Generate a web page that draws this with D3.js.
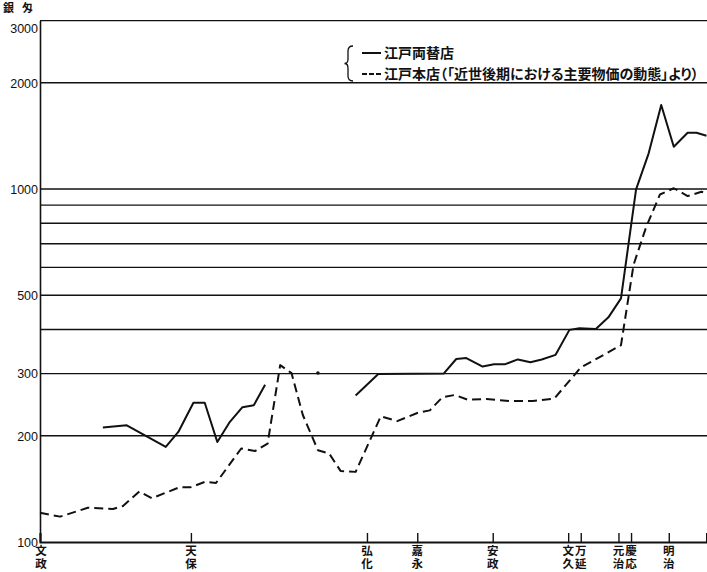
<!DOCTYPE html>
<html><head><meta charset="utf-8">
<script src="https://cdn.jsdelivr.net/npm/d3@7"></script>
<style>
html,body{margin:0;padding:0;background:#fff;}
svg{display:block;}
</style></head>
<body>
<svg id="chart" width="707" height="572"></svg>
<script>
// ---- data ----
const eraLabels = ["文政","天保","弘化","嘉永","安政","文久","万延","元治","慶応","明治"];
const eraYears  = [1818, 1830, 1844, 1848, 1854, 1860, 1861, 1864, 1865, 1868];

const yTickValues = [100, 200, 300, 500, 1000, 2000, 3000];
const gridValues  = [200, 300, 400, 500, 600, 700, 800, 900, 1000, 2000, 3000];

// 江戸両替店 (solid); null = gap
const ryogaeYears  = [1823, 1824.9, 1828, 1829, 1830.2, 1831.1, 1832.1, 1833.1, 1834.1, 1835, 1835.9,
  1838, 1840.1, 1842,
  1843.1, 1844.9, 1850.1, 1851.1, 1851.9, 1853.2, 1854.1, 1855, 1856, 1857, 1857.9, 1859,
  1860.1, 1860.9, 1862.2, 1863.2, 1864.2, 1865.4, 1866.4, 1867.4, 1868.4, 1869.5, 1870.2, 1871];
const ryogaeValues = [211, 214, 186, 205, 248, 248, 192, 219, 241, 244, 279,
  null, 301, null,
  260, 299, 300, 330, 332, 314, 319, 319, 329, 323, 329, 339,
  399, 403, 401, 433, 490, 998, 1262, 1730, 1318, 1443, 1443, 1416];

// 江戸本店 (dashed)
const hontenYears  = [1818, 1819.6, 1821.8, 1823.8, 1824.6, 1825.9, 1826.9, 1829.1, 1830, 1831.1, 1832,
  1834, 1835.1, 1836.1, 1837.1, 1838, 1838.9, 1840.1, 1841, 1841.9, 1843.1, 1845.1, 1846.4,
  1848, 1849, 1850, 1851, 1852, 1853.5, 1855.3, 1857.2, 1858.9, 1861, 1864.2, 1865.2, 1866.2,
  1867.3, 1868.4, 1869.5, 1870.6, 1871];
const hontenValues = [121, 118, 125, 124, 126.5, 139, 133, 143, 143, 148, 147,
  184, 181, 190, 317, 301, 229, 182, 178, 159, 158, 227, 220,
  232, 236, 257, 261, 253, 254, 251, 251, 255, 312, 361, 610, 780,
  965, 1005, 955, 982, 975];

const unitLabel = "銀 匁";
const legendLabels = ["江戸両替店", "江戸本店（「近世後期における主要物価の動態」より）"];

// ---- drawing ----
const svg = d3.select("#chart");
const x = d3.scaleLinear().domain([1818, 1871]).range([40, 706.5]);
const y = d3.scaleLog().domain([100, 3000]).range([542, 20.6]);
const font = "'Noto Sans CJK JP','Noto Sans',sans-serif";

// gridlines
svg.append("g").selectAll("line").data(gridValues).join("line")
  .attr("x1", x(1818)).attr("x2", 707)
  .attr("y1", d => y(d)).attr("y2", d => y(d))
  .attr("stroke", "#111").attr("stroke-width", 1.4);

// left axis
const yAxis = d3.axisLeft(y).tickValues(yTickValues).tickSize(0).tickPadding(2)
  .tickFormat(d3.format("d"));
const gy = svg.append("g").attr("transform", `translate(${x(1818)},0)`).call(yAxis);
gy.select(".domain").attr("stroke", "#111").attr("stroke-width", 1.6);
gy.selectAll("text").attr("font-family", "'Liberation Sans',Arial,sans-serif")
  .attr("font-size", 12.5).attr("fill", "#111")
  .attr("dy", d => d === 3000 ? "0.95em" : "0.35em");

// bottom axis
const xAxis = d3.axisBottom(x).tickValues(eraYears).tickSize(-9).tickFormat("");
const gx = svg.append("g").attr("transform", "translate(0,542)").call(xAxis);
gx.select(".domain").attr("stroke", "#111").attr("stroke-width", 2);
gx.selectAll(".tick line").attr("stroke", "#111").attr("stroke-width", 1.4);

// era labels (vertical text)
svg.append("g").selectAll("text").data(eraYears).join("text")
  .attr("x", (d, i) => x(d) + (i === 0 ? 1 : 0))
  .attr("y", 545)
  .style("writing-mode", "vertical-rl")
  .style("letter-spacing", "1.5px")
  .attr("font-family", font).attr("font-weight", "bold").attr("font-size", 11.5)
  .attr("fill", "#111").text((d, i) => eraLabels[i]);

// unit label
const unitParts = unitLabel.split(" ");
svg.append("g").selectAll("text").data(unitParts).join("text")
  .attr("x", (d, i) => 3 + i * 19).attr("y", 12).attr("font-family", font)
  .attr("font-weight", "bold").attr("font-size", 11).attr("fill", "#111").text(d => d);

// lines
const line = d3.line().defined(d => d[1] != null).x(d => x(d[0])).y(d => y(d[1]));
const ryogae = ryogaeYears.map((d, i) => [d, ryogaeValues[i]]);
const honten = hontenYears.map((d, i) => [d, hontenValues[i]]);

svg.append("path").datum(honten).attr("d", line).attr("fill", "none")
  .attr("stroke", "#111").attr("stroke-width", 2).attr("stroke-dasharray", "9,5")
  .attr("stroke-linejoin", "round");
svg.append("path").datum(ryogae).attr("d", line).attr("fill", "none")
  .attr("stroke", "#111").attr("stroke-width", 2).attr("stroke-linejoin", "round");

// isolated points of the solid series
const isolated = ryogae.filter((d, i) => d[1] != null &&
  (i === 0 || ryogae[i - 1][1] == null) && (i === ryogae.length - 1 || ryogae[i + 1][1] == null));
svg.append("g").selectAll("circle").data(isolated).join("circle")
  .attr("cx", d => x(d[0])).attr("cy", d => y(d[1])).attr("r", 1.8).attr("fill", "#111");

// legend
const lg = svg.append("g");
lg.append("path").attr("d", "M353,46 Q348,46 348,51 L348,59 Q348,63.5 344.5,63.5 Q348,63.5 348,68 L348,76 Q348,81 353,81")
  .attr("fill", "none").attr("stroke", "#111").attr("stroke-width", 1.3);
lg.append("line").attr("x1", 362).attr("x2", 381).attr("y1", 53).attr("y2", 53)
  .attr("stroke", "#111").attr("stroke-width", 2);
lg.append("line").attr("x1", 362).attr("x2", 381).attr("y1", 74).attr("y2", 74)
  .attr("stroke", "#111").attr("stroke-width", 2).attr("stroke-dasharray", "5,2");
lg.selectAll("text").data(legendLabels).join("text")
  .attr("x", 384).attr("y", (d, i) => 53 + i * 21).attr("dy", "0.35em")
  .attr("font-family", font).attr("font-weight", "bold").attr("font-size", 14)
  .style("font-feature-settings", "'palt'")
  .attr("fill", "#111").text(d => d)
  .each(function(d, i) {
    if (i === 1) {
      const w = this.getComputedTextLength();
      if (w > 322) d3.select(this).attr("textLength", 322).attr("lengthAdjust", "spacingAndGlyphs");
    }
  });
</script>
</body></html>
